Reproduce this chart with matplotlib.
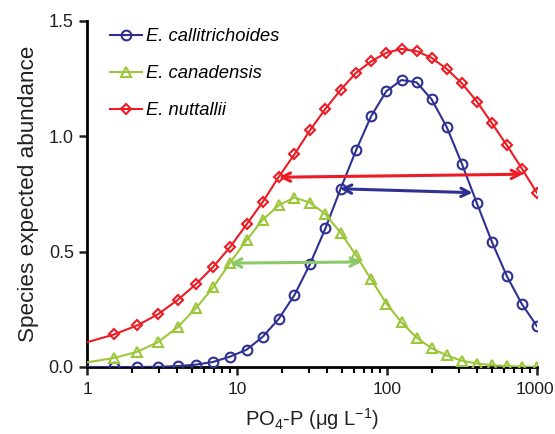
import numpy as np
import matplotlib
matplotlib.use("Agg")
import matplotlib.pyplot as plt
import matplotlib.transforms as mtransforms

plt.rcParams['font.family'] = ['Liberation Sans', 'DejaVu Sans']
plt.rcParams['mathtext.default'] = 'regular'

# PO4-P concentrations (ug/L), first point is the curve start at x=1
po4 = [1, 1.512, 2.162, 2.981, 4.012, 5.31, 6.943, 9, 11.59, 14.85, 18.95,
       24.12, 30.62, 38.81, 49.12, 62.1, 78.43, 99, 124.9, 157.5, 198.5,
       250.2, 315.2, 397.1, 500.2, 630, 793.3, 999]

callitrichoides = [0.0, 0.0, 0.0, 0.001, 0.004, 0.010, 0.022, 0.045, 0.075,
                   0.131, 0.208, 0.311, 0.445, 0.600, 0.773, 0.938, 1.087,
                   1.195, 1.243, 1.233, 1.159, 1.039, 0.881, 0.710, 0.542,
                   0.393, 0.272, 0.177]
canadensis = [0.020, 0.039, 0.066, 0.108, 0.172, 0.254, 0.345, 0.452, 0.550,
              0.638, 0.700, 0.734, 0.712, 0.662, 0.581, 0.484, 0.379, 0.275,
              0.193, 0.127, 0.081, 0.050, 0.027, 0.015, 0.008, 0.004, 0.002,
              0.001]
nuttallii = [0.107, 0.141, 0.180, 0.229, 0.290, 0.358, 0.434, 0.520, 0.618,
             0.715, 0.823, 0.921, 1.025, 1.118, 1.201, 1.274, 1.324, 1.361,
             1.378, 1.368, 1.339, 1.291, 1.229, 1.150, 1.056, 0.960, 0.859,
             0.754]

# niche width arrows: (x_left, x_right, y_left, y_right)
arrow_call = (48.6, 372, 0.772, 0.755)
arrow_cana = (9.0, 67.8, 0.450, 0.455)
arrow_nutt = (19.0, 805, 0.822, 0.835)

blue = '#2e3192'
green = '#9dc63b'
red = '#ed1c24'
light_green = '#8cc96a'

fig = plt.figure(figsize=(5.55, 4.34), dpi=100)
ax = fig.add_axes([0.1568, 0.1544, 0.8108, 0.7979])

ax.plot(po4, callitrichoides, color=blue, lw=1.5, marker='o', ms=7,
        mfc='none', mew=1.5, markevery=slice(1, None),
        label='E. callitrichoides', zorder=3)
ax.plot(po4, canadensis, color=green, lw=1.5, marker='^', ms=7.5,
        mfc='none', mew=1.5, markevery=slice(1, None),
        label='E. canadensis', zorder=3)
ax.plot(po4, nuttallii, color=red, lw=1.5, marker='D', ms=5.5,
        mfc='none', mew=1.5, markevery=slice(1, None),
        label='E. nuttallii', zorder=3)

for (x0, x1, y0, y1), c in [(arrow_nutt, red), (arrow_call, blue),
                            (arrow_cana, light_green)]:
    ax.annotate('', xy=(x1, y1), xytext=(x0, y0),
                arrowprops=dict(arrowstyle='<->,head_length=0.6,head_width=0.3',
                                color=c, lw=2.2, shrinkA=0, shrinkB=0),
                zorder=4)

ax.set_xscale('log')
ax.set_xlim(1, 1000)
ax.set_ylim(0, 1.5)
ax.set_xticks([1, 10, 100, 1000])
ax.set_xticklabels(['1', '10', '100', '1000'])
ax.set_yticks([0, 0.5, 1.0, 1.5])
ax.set_yticklabels(['0.0', '0.5', '1.0', '1.5'])

for s in ['top', 'right']:
    ax.spines[s].set_visible(False)
for s in ['left', 'bottom']:
    ax.spines[s].set_linewidth(2)
ax.tick_params(axis='both', which='major', direction='out', length=6,
               width=1.8, colors='#231f20')
ax.tick_params(axis='y', which='major', labelsize=13)
ax.tick_params(axis='x', which='major', labelsize=12.6, pad=5)
ax.tick_params(axis='x', which='minor', direction='out', length=4, width=1.5)

# nudge the last x label so it stays inside the figure
last = ax.get_xticklabels()[-1]
last.set_transform(last.get_transform() +
                   mtransforms.ScaledTranslation(-2 / 100, 0, fig.dpi_scale_trans))

ax.set_xlabel('PO$_4$-P (μg L$^{-1}$)', fontsize=14.5, color='#231f20',
              labelpad=6)
ax.set_ylabel('Species expected abundance', fontsize=16.2, color='#231f20',
              labelpad=7)

leg = ax.legend(loc='upper left', bbox_to_anchor=(0.035, 1.0), frameon=False,
                borderaxespad=0, handlelength=1.75, handletextpad=0.2,
                labelspacing=1.1, prop={'style': 'italic', 'size': 13.2})

fig.savefig('out.png', dpi=100)
